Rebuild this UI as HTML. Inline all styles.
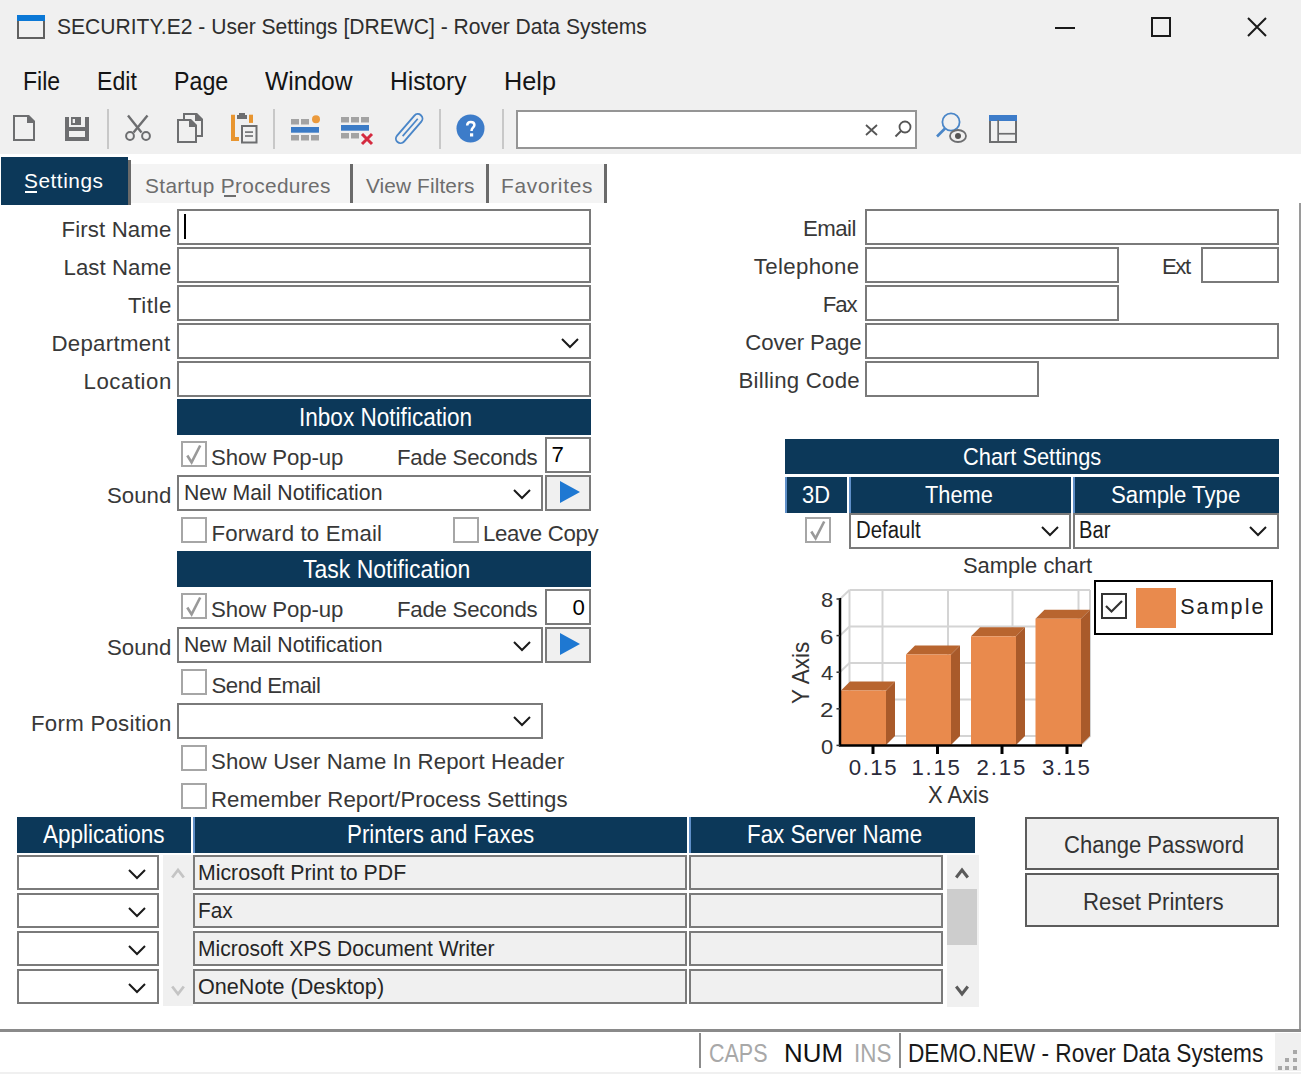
<!DOCTYPE html>
<html><head><meta charset="utf-8"><title>SECURITY.E2 - User Settings</title>
<style>
html,body{margin:0;padding:0;}
body{width:1301px;height:1074px;position:relative;overflow:hidden;background:#fff;font-family:"Liberation Sans", sans-serif;}
.a{position:absolute;box-sizing:border-box;}
.t{position:absolute;white-space:nowrap;}
svg{position:absolute;overflow:visible;}
</style></head><body>
<div class="a" style="left:0px;top:0px;width:1301px;height:154px;background:#f0f0f0;"></div>
<div class="a" style="left:17px;top:15px;width:28px;height:24px;background:transparent;border:2px solid #606060;"></div>
<div class="a" style="left:17px;top:15px;width:28px;height:5.5px;background:#0b78d6;"></div>
<div class="t" style="left:57.00px;top:17.20px;font-size:21.53px;line-height:21.53px;color:#2e2e2e;transform:scaleX(0.9793);transform-origin:0 0;">SECURITY.E2 - User Settings [DREWC] - Rover Data Systems</div>
<div class="a" style="left:1055px;top:27px;width:20px;height:2px;background:#1a1a1a;"></div>
<div class="a" style="left:1151px;top:17px;width:20px;height:20px;background:transparent;border:2px solid #1a1a1a;"></div>
<svg style="left:1247px;top:17px" width="20" height="20"><path d="M1 1L19 19M19 1L1 19" stroke="#1a1a1a" stroke-width="2"/></svg>
<div class="t" style="left:22.65px;top:68.75px;font-size:25.0px;line-height:25.0px;color:#141414;transform:scaleX(0.9230);transform-origin:0 0;">File</div>
<div class="t" style="left:97.15px;top:68.75px;font-size:25.0px;line-height:25.0px;color:#141414;transform:scaleX(0.9238);transform-origin:0 0;">Edit</div>
<div class="t" style="left:174.14px;top:68.75px;font-size:25.0px;line-height:25.0px;color:#141414;transform:scaleX(0.9282);transform-origin:0 0;">Page</div>
<div class="t" style="left:265.00px;top:68.75px;font-size:25.0px;line-height:25.0px;color:#141414;transform:scaleX(0.9848);transform-origin:0 0;">Window</div>
<div class="t" style="left:390.03px;top:68.75px;font-size:25.0px;line-height:25.0px;color:#141414;transform:scaleX(0.9832);transform-origin:0 0;">History</div>
<div class="t" style="left:503.98px;top:68.75px;font-size:25.0px;line-height:25.0px;color:#141414;transform:scaleX(1.0101);transform-origin:0 0;">Help</div>
<div class="a" style="left:1px;top:157px;width:127px;height:48px;background:#0c3859;"></div>
<div class="a" style="left:128px;top:160px;width:3px;height:45px;background:#6a6a6a;"></div>
<div class="t" style="left:24.00px;top:171.29px;font-size:20.83px;line-height:20.83px;color:#fff;letter-spacing:0.522px;">Settings</div>
<div class="a" style="left:25px;top:191px;width:12px;height:2px;background:#fff;"></div>
<div class="a" style="left:131px;top:164px;width:219px;height:39px;background:#f4f4f4;"></div>
<div class="a" style="left:350px;top:164px;width:3px;height:39px;background:#6a6a6a;"></div>
<div class="t" style="left:145.00px;top:175.79px;font-size:20.83px;line-height:20.83px;color:#6d6d6d;letter-spacing:0.351px;">Startup Procedures</div>
<div class="a" style="left:224px;top:195px;width:12px;height:2px;background:#6d6d6d;"></div>
<div class="a" style="left:353px;top:164px;width:133px;height:39px;background:#f4f4f4;"></div>
<div class="a" style="left:486px;top:164px;width:3px;height:39px;background:#6a6a6a;"></div>
<div class="t" style="left:366.00px;top:175.79px;font-size:20.83px;line-height:20.83px;color:#6d6d6d;letter-spacing:0.106px;">View Filters</div>
<div class="a" style="left:489px;top:164px;width:115px;height:39px;background:#f4f4f4;"></div>
<div class="a" style="left:604px;top:164px;width:3px;height:39px;background:#6a6a6a;"></div>
<div class="t" style="left:501.00px;top:175.79px;font-size:20.83px;line-height:20.83px;color:#6d6d6d;letter-spacing:0.720px;">Favorites</div>
<div class="a" style="left:1299px;top:203px;width:2px;height:827px;background:#9a9a9a;"></div>
<div class="t" style="left:61.50px;top:219.11px;font-size:22.22px;line-height:22.22px;color:#383838;letter-spacing:0.136px;">First Name</div>
<div class="t" style="left:63.50px;top:257.11px;font-size:22.22px;line-height:22.22px;color:#383838;letter-spacing:0.052px;">Last Name</div>
<div class="t" style="left:128.00px;top:295.11px;font-size:22.22px;line-height:22.22px;color:#383838;letter-spacing:0.552px;">Title</div>
<div class="t" style="left:51.50px;top:333.11px;font-size:22.22px;line-height:22.22px;color:#383838;letter-spacing:0.288px;">Department</div>
<div class="t" style="left:83.50px;top:371.11px;font-size:22.22px;line-height:22.22px;color:#383838;letter-spacing:0.550px;">Location</div>
<div class="a" style="left:177px;top:209px;width:414px;height:36px;background:#fff;border:2px solid #7a7a7a;"></div>
<div class="a" style="left:177px;top:247px;width:414px;height:36px;background:#fff;border:2px solid #7a7a7a;"></div>
<div class="a" style="left:177px;top:285px;width:414px;height:36px;background:#fff;border:2px solid #7a7a7a;"></div>
<div class="a" style="left:177px;top:323px;width:414px;height:36px;background:#fff;border:2px solid #7a7a7a;"></div>
<div class="a" style="left:177px;top:361px;width:414px;height:36px;background:#fff;border:2px solid #7a7a7a;"></div>
<svg style="left:561px;top:338px" width="18" height="10"><path d="M1 1L9.0 9L17 1" fill="none" stroke="#1a1a1a" stroke-width="2"/></svg>
<div class="a" style="left:184px;top:214px;width:2px;height:25px;background:#000;"></div>
<div class="a" style="left:177px;top:399px;width:414px;height:36px;background:#0c3859;"></div>
<div class="t" style="left:298.69px;top:404.75px;font-size:25.0px;line-height:25.0px;color:#fff;transform:scaleX(0.9027);transform-origin:0 0;">Inbox Notification</div>
<div class="a" style="left:181px;top:441px;width:26px;height:26px;background:#fff;border:2px solid #a6a6a6;"></div>
<svg style="left:181px;top:441px" width="26" height="26"><path d="M6.3 14.5L10.6 21.4L19.2 4.5" fill="none" stroke="#999999" stroke-width="2.6"/></svg>
<div class="t" style="left:211.00px;top:446.61px;font-size:22.22px;line-height:22.22px;color:#383838;letter-spacing:-0.104px;">Show Pop-up</div>
<div class="t" style="left:397.00px;top:446.61px;font-size:22.22px;line-height:22.22px;color:#383838;letter-spacing:-0.243px;">Fade Seconds</div>
<div class="a" style="left:545px;top:437px;width:46px;height:36px;background:#fff;border:2px solid #7a7a7a;"></div>
<div class="t" style="left:551.50px;top:444.11px;font-size:22.22px;line-height:22.22px;color:#000;">7</div>
<div class="t" style="left:107.00px;top:485.11px;font-size:22.22px;line-height:22.22px;color:#383838;letter-spacing:0.027px;">Sound</div>
<div class="a" style="left:177px;top:475px;width:366px;height:36px;background:#fff;border:2px solid #7a7a7a;"></div>
<div class="t" style="left:183.51px;top:482.70px;font-size:21.53px;line-height:21.53px;color:#333;transform:scaleX(0.9879);transform-origin:0 0;">New Mail Notification</div>
<svg style="left:513px;top:489px" width="18" height="10"><path d="M1 1L9.0 9L17 1" fill="none" stroke="#1a1a1a" stroke-width="2"/></svg>
<div class="a" style="left:545px;top:475px;width:46px;height:36px;background:#f0f0f0;border:2px solid #7a7a7a;"></div>
<svg style="left:560px;top:481px" width="20" height="22"><path d="M0 0L20 11L0 22Z" fill="#1e78d2"/></svg>
<div class="a" style="left:181px;top:517px;width:26px;height:26px;background:#fff;border:2px solid #a6a6a6;"></div>
<div class="t" style="left:211.50px;top:523.11px;font-size:22.22px;line-height:22.22px;color:#383838;letter-spacing:0.168px;">Forward to Email</div>
<div class="a" style="left:453px;top:517px;width:26px;height:26px;background:#fff;border:2px solid #a6a6a6;"></div>
<div class="t" style="left:483.00px;top:523.11px;font-size:22.22px;line-height:22.22px;color:#383838;letter-spacing:-0.330px;">Leave Copy</div>
<div class="a" style="left:177px;top:551px;width:414px;height:36px;background:#0c3859;"></div>
<div class="t" style="left:302.50px;top:556.75px;font-size:25.0px;line-height:25.0px;color:#fff;transform:scaleX(0.9193);transform-origin:0 0;">Task Notification</div>
<div class="a" style="left:181px;top:593px;width:26px;height:26px;background:#fff;border:2px solid #a6a6a6;"></div>
<svg style="left:181px;top:593px" width="26" height="26"><path d="M6.3 14.5L10.6 21.4L19.2 4.5" fill="none" stroke="#999999" stroke-width="2.6"/></svg>
<div class="t" style="left:211.00px;top:599.11px;font-size:22.22px;line-height:22.22px;color:#383838;letter-spacing:-0.104px;">Show Pop-up</div>
<div class="t" style="left:397.00px;top:599.11px;font-size:22.22px;line-height:22.22px;color:#383838;letter-spacing:-0.243px;">Fade Seconds</div>
<div class="a" style="left:545px;top:589px;width:46px;height:36px;background:#fff;border:2px solid #7a7a7a;"></div>
<div class="t" style="left:572.50px;top:597.11px;font-size:22.22px;line-height:22.22px;color:#000;">0</div>
<div class="t" style="left:107.00px;top:636.61px;font-size:22.22px;line-height:22.22px;color:#383838;letter-spacing:0.027px;">Sound</div>
<div class="a" style="left:177px;top:627px;width:366px;height:36px;background:#fff;border:2px solid #7a7a7a;"></div>
<div class="t" style="left:183.51px;top:634.70px;font-size:21.53px;line-height:21.53px;color:#333;transform:scaleX(0.9879);transform-origin:0 0;">New Mail Notification</div>
<svg style="left:513px;top:641px" width="18" height="10"><path d="M1 1L9.0 9L17 1" fill="none" stroke="#1a1a1a" stroke-width="2"/></svg>
<div class="a" style="left:545px;top:627px;width:46px;height:36px;background:#f0f0f0;border:2px solid #7a7a7a;"></div>
<svg style="left:560px;top:633px" width="20" height="22"><path d="M0 0L20 11L0 22Z" fill="#1e78d2"/></svg>
<div class="a" style="left:181px;top:669px;width:26px;height:26px;background:#fff;border:2px solid #a6a6a6;"></div>
<div class="t" style="left:211.50px;top:675.11px;font-size:22.22px;line-height:22.22px;color:#383838;letter-spacing:-0.465px;">Send Email</div>
<div class="t" style="left:31.00px;top:713.11px;font-size:22.22px;line-height:22.22px;color:#383838;letter-spacing:0.275px;">Form Position</div>
<div class="a" style="left:177px;top:703px;width:366px;height:36px;background:#fff;border:2px solid #7a7a7a;"></div>
<svg style="left:513px;top:716px" width="18" height="10"><path d="M1 1L9.0 9L17 1" fill="none" stroke="#1a1a1a" stroke-width="2"/></svg>
<div class="a" style="left:181px;top:745px;width:26px;height:26px;background:#fff;border:2px solid #a6a6a6;"></div>
<div class="t" style="left:211.00px;top:751.11px;font-size:22.22px;line-height:22.22px;color:#383838;letter-spacing:0.089px;">Show User Name In Report Header</div>
<div class="a" style="left:181px;top:783px;width:26px;height:26px;background:#fff;border:2px solid #a6a6a6;"></div>
<div class="t" style="left:211.00px;top:789.11px;font-size:22.22px;line-height:22.22px;color:#383838;letter-spacing:0.031px;">Remember Report/Process Settings</div>
<div class="a" style="left:17px;top:817px;width:174px;height:35.5px;background:#0c3859;"></div>
<div class="a" style="left:193px;top:817px;width:494px;height:35.5px;background:#0c3859;"></div>
<div class="a" style="left:193px;top:817px;width:1.5px;height:35.5px;background:#5f8fc8;"></div>
<div class="a" style="left:689px;top:817px;width:286px;height:35.5px;background:#0c3859;"></div>
<div class="a" style="left:689px;top:817px;width:1.5px;height:35.5px;background:#5f8fc8;"></div>
<div class="t" style="left:43.00px;top:822.25px;font-size:25.0px;line-height:25.0px;color:#fff;transform:scaleX(0.9010);transform-origin:0 0;">Applications</div>
<div class="t" style="left:346.97px;top:822.25px;font-size:25.0px;line-height:25.0px;color:#fff;transform:scaleX(0.8924);transform-origin:0 0;">Printers and Faxes</div>
<div class="t" style="left:746.96px;top:822.25px;font-size:25.0px;line-height:25.0px;color:#fff;transform:scaleX(0.8939);transform-origin:0 0;">Fax Server Name</div>
<div class="a" style="left:17px;top:855px;width:142px;height:35px;background:#fff;border:2px solid #7a7a7a;"></div>
<svg style="left:128px;top:869px" width="18" height="10"><path d="M1 1L9.0 9L17 1" fill="none" stroke="#1a1a1a" stroke-width="2"/></svg>
<div class="a" style="left:193px;top:855px;width:494px;height:35px;background:#f0f0f0;border:2px solid #7a7a7a;"></div>
<div class="t" style="left:197.51px;top:862.70px;font-size:21.53px;line-height:21.53px;color:#262626;transform:scaleX(0.9891);transform-origin:0 0;">Microsoft Print to PDF</div>
<div class="a" style="left:689px;top:855px;width:254px;height:35px;background:#f0f0f0;border:2px solid #7a7a7a;"></div>
<div class="a" style="left:17px;top:893px;width:142px;height:35px;background:#fff;border:2px solid #7a7a7a;"></div>
<svg style="left:128px;top:907px" width="18" height="10"><path d="M1 1L9.0 9L17 1" fill="none" stroke="#1a1a1a" stroke-width="2"/></svg>
<div class="a" style="left:193px;top:893px;width:494px;height:35px;background:#f0f0f0;border:2px solid #7a7a7a;"></div>
<div class="t" style="left:197.53px;top:900.70px;font-size:21.53px;line-height:21.53px;color:#262626;transform:scaleX(0.9684);transform-origin:0 0;">Fax</div>
<div class="a" style="left:689px;top:893px;width:254px;height:35px;background:#f0f0f0;border:2px solid #7a7a7a;"></div>
<div class="a" style="left:17px;top:931px;width:142px;height:35px;background:#fff;border:2px solid #7a7a7a;"></div>
<svg style="left:128px;top:945px" width="18" height="10"><path d="M1 1L9.0 9L17 1" fill="none" stroke="#1a1a1a" stroke-width="2"/></svg>
<div class="a" style="left:193px;top:931px;width:494px;height:35px;background:#f0f0f0;border:2px solid #7a7a7a;"></div>
<div class="t" style="left:197.52px;top:938.70px;font-size:21.53px;line-height:21.53px;color:#262626;transform:scaleX(0.9774);transform-origin:0 0;">Microsoft XPS Document Writer</div>
<div class="a" style="left:689px;top:931px;width:254px;height:35px;background:#f0f0f0;border:2px solid #7a7a7a;"></div>
<div class="a" style="left:17px;top:969px;width:142px;height:35px;background:#fff;border:2px solid #7a7a7a;"></div>
<svg style="left:128px;top:983px" width="18" height="10"><path d="M1 1L9.0 9L17 1" fill="none" stroke="#1a1a1a" stroke-width="2"/></svg>
<div class="a" style="left:193px;top:969px;width:494px;height:35px;background:#f0f0f0;border:2px solid #7a7a7a;"></div>
<div class="t" style="left:197.50px;top:976.70px;font-size:21.53px;line-height:21.53px;color:#262626;transform:scaleX(1.0039);transform-origin:0 0;">OneNote (Desktop)</div>
<div class="a" style="left:689px;top:969px;width:254px;height:35px;background:#f0f0f0;border:2px solid #7a7a7a;"></div>
<div class="a" style="left:163px;top:855px;width:29.5px;height:151px;background:#f0f0f0;"></div>
<svg style="left:171px;top:867px" width="14" height="12"><path d="M1.2 10.5L7 3L12.8 10.5" fill="none" stroke="#c4c4c4" stroke-width="2.8"/></svg>
<svg style="left:171px;top:985px" width="14" height="12"><path d="M1.2 1.5L7 9L12.8 1.5" fill="none" stroke="#c4c4c4" stroke-width="2.8"/></svg>
<div class="a" style="left:947px;top:855px;width:32px;height:151.5px;background:#f0f0f0;"></div>
<div class="a" style="left:947px;top:889px;width:29.5px;height:55.5px;background:#cdcdcd;"></div>
<svg style="left:955px;top:867px" width="14" height="12"><path d="M1.2 10.5L7 3L12.8 10.5" fill="none" stroke="#5a5a5a" stroke-width="3"/></svg>
<svg style="left:955px;top:985px" width="14" height="12"><path d="M1.2 1.5L7 9L12.8 1.5" fill="none" stroke="#5a5a5a" stroke-width="3"/></svg>
<div class="a" style="left:1025px;top:817px;width:254px;height:53px;background:#f0f0f0;border:2px solid #5c5c5c;"></div>
<div class="t" style="left:1063.57px;top:833.93px;font-size:23.61px;line-height:23.61px;color:#333;transform:scaleX(0.9335);transform-origin:0 0;">Change Password</div>
<div class="a" style="left:1025px;top:873px;width:254px;height:53.5px;background:#f0f0f0;border:2px solid #5c5c5c;"></div>
<div class="t" style="left:1083.46px;top:890.93px;font-size:23.61px;line-height:23.61px;color:#333;transform:scaleX(0.9406);transform-origin:0 0;">Reset Printers</div>
<div class="t" style="left:803.00px;top:218.11px;font-size:22.22px;line-height:22.22px;color:#383838;letter-spacing:-0.530px;">Email</div>
<div class="t" style="left:753.75px;top:256.11px;font-size:22.22px;line-height:22.22px;color:#383838;letter-spacing:0.352px;">Telephone</div>
<div class="t" style="left:822.75px;top:294.11px;font-size:22.22px;line-height:22.22px;color:#383838;letter-spacing:-1.090px;">Fax</div>
<div class="t" style="left:745.25px;top:332.11px;font-size:22.22px;line-height:22.22px;color:#383838;letter-spacing:-0.108px;">Cover Page</div>
<div class="t" style="left:738.50px;top:370.11px;font-size:22.22px;line-height:22.22px;color:#383838;letter-spacing:0.231px;">Billing Code</div>
<div class="t" style="left:1162.00px;top:256.11px;font-size:22.22px;line-height:22.22px;color:#383838;letter-spacing:-1.465px;">Ext</div>
<div class="a" style="left:865px;top:209px;width:414px;height:36px;background:#fff;border:2px solid #7a7a7a;"></div>
<div class="a" style="left:865px;top:247px;width:254px;height:36px;background:#fff;border:2px solid #7a7a7a;"></div>
<div class="a" style="left:1201px;top:247px;width:78px;height:36px;background:#fff;border:2px solid #7a7a7a;"></div>
<div class="a" style="left:865px;top:285px;width:254px;height:36px;background:#fff;border:2px solid #7a7a7a;"></div>
<div class="a" style="left:865px;top:323px;width:414px;height:36px;background:#fff;border:2px solid #7a7a7a;"></div>
<div class="a" style="left:865px;top:361px;width:174px;height:36px;background:#fff;border:2px solid #7a7a7a;"></div>
<div class="a" style="left:785px;top:439px;width:494px;height:35px;background:#0c3859;"></div>
<div class="t" style="left:962.85px;top:445.34px;font-size:24.31px;line-height:24.31px;color:#fff;transform:scaleX(0.8982);transform-origin:0 0;">Chart Settings</div>
<div class="a" style="left:785px;top:477px;width:62px;height:36px;background:#0c3859;"></div>
<div class="a" style="left:785px;top:477px;width:1.5px;height:36px;background:#5f8fc8;"></div>
<div class="a" style="left:849px;top:477px;width:222px;height:36px;background:#0c3859;"></div>
<div class="a" style="left:849px;top:477px;width:1.5px;height:36px;background:#5f8fc8;"></div>
<div class="a" style="left:1073px;top:477px;width:206px;height:36px;background:#0c3859;"></div>
<div class="a" style="left:1073px;top:477px;width:1.5px;height:36px;background:#5f8fc8;"></div>
<div class="t" style="left:801.50px;top:483.63px;font-size:23.61px;line-height:23.61px;color:#fff;transform:scaleX(0.9269);transform-origin:0 0;">3D</div>
<div class="t" style="left:925.30px;top:483.83px;font-size:23.61px;line-height:23.61px;color:#fff;transform:scaleX(0.9230);transform-origin:0 0;">Theme</div>
<div class="t" style="left:1111.06px;top:483.83px;font-size:23.61px;line-height:23.61px;color:#fff;transform:scaleX(0.9410);transform-origin:0 0;">Sample Type</div>
<div class="a" style="left:805px;top:517px;width:26px;height:26px;background:#fff;border:2px solid #a6a6a6;"></div>
<svg style="left:805px;top:517px" width="26" height="26"><path d="M6.3 14.5L10.6 21.4L19.2 4.5" fill="none" stroke="#999999" stroke-width="2.6"/></svg>
<div class="a" style="left:849px;top:513px;width:222px;height:36px;background:#fff;border:2px solid #7a7a7a;"></div>
<div class="t" style="left:855.94px;top:519.33px;font-size:23.61px;line-height:23.61px;color:#1a1a1a;transform:scaleX(0.8647);transform-origin:0 0;">Default</div>
<svg style="left:1041px;top:526px" width="18" height="10"><path d="M1 1L9.0 9L17 1" fill="none" stroke="#1a1a1a" stroke-width="2"/></svg>
<div class="a" style="left:1073px;top:513px;width:206px;height:36px;background:#fff;border:2px solid #7a7a7a;"></div>
<div class="t" style="left:1079.15px;top:519.33px;font-size:23.61px;line-height:23.61px;color:#1a1a1a;transform:scaleX(0.8529);transform-origin:0 0;">Bar</div>
<svg style="left:1249px;top:526px" width="18" height="10"><path d="M1 1L9.0 9L17 1" fill="none" stroke="#1a1a1a" stroke-width="2"/></svg>
<div class="t" style="left:962.79px;top:554.02px;font-size:22.92px;line-height:22.92px;color:#333;transform:scaleX(0.9566);transform-origin:0 0;">Sample chart</div>
<svg style="left:13px;top:115px" width="22" height="26"><path d="M1 1H15L21 7V25H1Z" fill="none" stroke="#6d6e70" stroke-width="2"/><path d="M14 0H16L22 6V8H14Z" fill="#6d6e70"/></svg>
<svg style="left:65px;top:117px" width="24" height="24"><path d="M0 0H4V10H20V0H24V24H0Z M4 14V20H20V14Z" fill="#6d6e70" fill-rule="evenodd"/><rect x="6" y="0" width="10" height="8" fill="#6d6e70"/><rect x="7.7" y="2" width="2.3" height="4" fill="#f0f0f0"/></svg>
<div class="a" style="left:107px;top:109px;width:2px;height:40px;background:#c8c8c8;"></div>
<svg style="left:124px;top:114px" width="28" height="28"><path d="M4 1.5L17.5 18.5M23.5 1.5L9.5 18.5" stroke="#6d6e70" stroke-width="2.4"/><circle cx="6" cy="22" r="3.9" fill="none" stroke="#6d6e70" stroke-width="2"/><circle cx="22" cy="22" r="3.9" fill="none" stroke="#6d6e70" stroke-width="2"/></svg>
<svg style="left:177px;top:113px" width="27" height="30"><path d="M7 6V1H19L25 7V23H20" fill="none" stroke="#6d6e70" stroke-width="2"/><path d="M18 0H20L26 6V8H18Z" fill="#6d6e70"/><path d="M1 7H13L19 13V29H1Z" fill="#f0f0f0" stroke="#6d6e70" stroke-width="2"/><path d="M12 6H14L20 12V14H12Z" fill="#6d6e70"/></svg>
<svg style="left:230px;top:113px" width="28" height="30"><path d="M1 1.7H5V24H9V28H1Z" fill="#e8952f"/><rect x="19" y="1.7" width="4" height="8.2" fill="#e8952f"/><path d="M7 2H9V0H15V2H17V6H7Z" fill="#6d6e70"/><rect x="12" y="13" width="14.5" height="16.5" fill="#f0f0f0" stroke="#6d6e70" stroke-width="2"/><rect x="15" y="18.3" width="8" height="1.6" fill="#6d6e70"/><rect x="15" y="22.2" width="8" height="1.6" fill="#6d6e70"/></svg>
<div class="a" style="left:273px;top:109px;width:2px;height:40px;background:#c8c8c8;"></div>
<svg style="left:291px;top:115px" width="30" height="26"><rect x="0" y="4" width="8" height="5.5" fill="#a3a3a3"/><rect x="10" y="4" width="8" height="5.5" fill="#a3a3a3"/><circle cx="25" cy="4.3" r="4" fill="#eb9a3c"/><rect x="0" y="12" width="28" height="5.7" fill="#3b7bc6"/><rect x="0" y="20" width="8" height="5.5" fill="#a3a3a3"/><rect x="10" y="20" width="8" height="5.5" fill="#a3a3a3"/><rect x="20" y="20" width="8" height="5.5" fill="#a3a3a3"/></svg>
<svg style="left:341px;top:117px" width="33" height="28"><rect x="0" y="0" width="8" height="5.5" fill="#a3a3a3"/><rect x="10" y="0" width="8" height="5.5" fill="#a3a3a3"/><rect x="20" y="0" width="8" height="5.5" fill="#a3a3a3"/><rect x="0" y="8" width="28" height="5.7" fill="#3b7bc6"/><rect x="0" y="16" width="8" height="5.5" fill="#a3a3a3"/><rect x="10" y="16" width="8" height="5.5" fill="#a3a3a3"/><path d="M21 17L31 27M31 17L21 27" stroke="#d42a3f" stroke-width="3"/></svg>
<svg style="left:393px;top:110px" width="34" height="37"><g transform="translate(16.2 18.6) rotate(41)"><rect x="-4.6" y="-17.8" width="9.2" height="35.6" rx="4.6" fill="none" stroke="#4a86c8" stroke-width="1.9"/><path d="M0 -13V10" stroke="#4a86c8" stroke-width="1.7"/></g></svg>
<div class="a" style="left:439px;top:109px;width:2px;height:40px;background:#c8c8c8;"></div>
<svg style="left:456px;top:114px" width="29" height="29"><circle cx="14.5" cy="14.5" r="14" fill="#3d7cc9"/><path d="M11.2 11.5C11.2 9.2 12.8 7.9 14.8 7.9C16.9 7.9 18.4 9.2 18.4 11C18.4 13.5 15.6 13.8 15.6 16.3V17" fill="none" stroke="#fff" stroke-width="2.5"/><rect x="14" y="19.3" width="3.2" height="3.2" fill="#fff"/></svg>
<div class="a" style="left:502px;top:109px;width:2px;height:40px;background:#c8c8c8;"></div>
<div class="a" style="left:515.5px;top:109.5px;width:401.5px;height:39.5px;background:#fff;border:2px solid #959595;"></div>
<svg style="left:865px;top:124px" width="13" height="12"><path d="M1 1L12 11M12 1L1 11" stroke="#555" stroke-width="1.8"/></svg>
<svg style="left:894px;top:120px" width="18" height="18"><circle cx="11" cy="7" r="5.5" fill="none" stroke="#555" stroke-width="1.8"/><path d="M7 11L1.5 16.5" stroke="#555" stroke-width="2"/></svg>
<svg style="left:935px;top:112px" width="33" height="31"><circle cx="16" cy="10" r="8.6" fill="none" stroke="#4a86c8" stroke-width="1.8"/><path d="M10 16.5L2 24.5" stroke="#4a86c8" stroke-width="2.6"/><ellipse cx="23" cy="24" rx="8" ry="6" fill="#f0f0f0" stroke="#6d6e70" stroke-width="1.8"/><circle cx="23" cy="24" r="3" fill="#555"/></svg>
<svg style="left:989px;top:115px" width="28" height="28"><rect x="1" y="1" width="26" height="26" fill="none" stroke="#6d6e70" stroke-width="2"/><rect x="0" y="0" width="28" height="6" fill="#3d7cc9"/><rect x="8.3" y="5" width="1.7" height="22" fill="#6d6e70"/><rect x="9" y="17.9" width="18" height="1.7" fill="#6d6e70"/></svg>
<div class="a" style="left:0px;top:1029px;width:1301px;height:3.5px;background:#8a8a8a;"></div>
<div class="a" style="left:0px;top:1032px;width:1301px;height:42px;background:#ffffff;"></div>
<div class="a" style="left:0px;top:1071.5px;width:1301px;height:2.5px;background:#f0f0f0;"></div>
<div class="a" style="left:699px;top:1033px;width:2px;height:35px;background:#8c8c8c;"></div>
<div class="a" style="left:899px;top:1033px;width:2px;height:35px;background:#8c8c8c;"></div>
<div class="t" style="left:709.14px;top:1040.75px;font-size:25.0px;line-height:25.0px;color:#a8a8a8;transform:scaleX(0.8584);transform-origin:0 0;">CAPS</div>
<div class="t" style="left:783.93px;top:1040.75px;font-size:25.0px;line-height:25.0px;color:#111;transform:scaleX(1.0356);transform-origin:0 0;">NUM</div>
<div class="t" style="left:854.21px;top:1040.75px;font-size:25.0px;line-height:25.0px;color:#a8a8a8;transform:scaleX(0.8974);transform-origin:0 0;">INS</div>
<div class="t" style="left:908.19px;top:1040.75px;font-size:25.0px;line-height:25.0px;color:#1a1a1a;transform:scaleX(0.9069);transform-origin:0 0;">DEMO.NEW - Rover Data Systems</div>
<div class="a" style="left:1275px;top:1032.5px;width:26px;height:38.5px;background:#f0f0f0;"></div>
<div class="a" style="left:1293px;top:1049.5px;width:4px;height:4.0px;background:#a8a8a8;"></div>
<div class="a" style="left:1285px;top:1057.5px;width:4px;height:4.0px;background:#a8a8a8;"></div>
<div class="a" style="left:1293px;top:1057.5px;width:4px;height:4.0px;background:#a8a8a8;"></div>
<div class="a" style="left:1277.5px;top:1065.5px;width:4.0px;height:4.0px;background:#a8a8a8;"></div>
<div class="a" style="left:1285px;top:1065.5px;width:4px;height:4.0px;background:#a8a8a8;"></div>
<div class="a" style="left:1293px;top:1065.5px;width:4px;height:4.0px;background:#a8a8a8;"></div>
<svg style="left:780px;top:580px" width="320" height="240" viewBox="780 580 320 240"><path d="M849.5 590H1090" stroke="#d4d4d4" stroke-width="2"/><path d="M840 599L849.5 590" stroke="#d4d4d4" stroke-width="2"/><path d="M849.5 626.5H1090" stroke="#d4d4d4" stroke-width="2"/><path d="M840 635.5L849.5 626.5" stroke="#d4d4d4" stroke-width="2"/><path d="M849.5 663H1090" stroke="#d4d4d4" stroke-width="2"/><path d="M840 672L849.5 663" stroke="#d4d4d4" stroke-width="2"/><path d="M849.5 699.5H1090" stroke="#d4d4d4" stroke-width="2"/><path d="M840 708.5L849.5 699.5" stroke="#d4d4d4" stroke-width="2"/><path d="M849.5 736H1090" stroke="#d4d4d4" stroke-width="2"/><path d="M840 745L849.5 736" stroke="#d4d4d4" stroke-width="2"/><path d="M849.5 590V736" stroke="#d4d4d4" stroke-width="2"/><path d="M882.5 590V736" stroke="#d4d4d4" stroke-width="2"/><path d="M948 590V736" stroke="#d4d4d4" stroke-width="2"/><path d="M1012.5 590V736" stroke="#d4d4d4" stroke-width="2"/><path d="M1078.5 590V736" stroke="#d4d4d4" stroke-width="2"/><path d="M1090 590V736L1081 745" stroke="#d4d4d4" stroke-width="2" fill="none"/><path d="M841 690.5L850 681.5H895L886 690.5Z" fill="#b8652f"/><path d="M886 690.5L895 681.5V736L886 745Z" fill="#a95a2a"/><rect x="841" y="690.5" width="45" height="54.5" fill="#e98a4d"/><path d="M906 654.5L915 645.5H960L951 654.5Z" fill="#b8652f"/><path d="M951 654.5L960 645.5V736L951 745Z" fill="#a95a2a"/><rect x="906" y="654.5" width="45" height="90.5" fill="#e98a4d"/><path d="M971 636.3L980 627.3H1025L1016 636.3Z" fill="#b8652f"/><path d="M1016 636.3L1025 627.3V736L1016 745Z" fill="#a95a2a"/><rect x="971" y="636.3" width="45" height="108.70000000000005" fill="#e98a4d"/><path d="M1035.5 618.7L1044.5 609.7H1090L1081 618.7Z" fill="#b8652f"/><path d="M1081 618.7L1090 609.7V736L1081 745Z" fill="#a95a2a"/><rect x="1035.5" y="618.7" width="45.5" height="126.29999999999995" fill="#e98a4d"/><path d="M840 598V746.5M839 745.5H1082" stroke="#000" stroke-width="2.5" fill="none"/><path d="M873 745V754" stroke="#000" stroke-width="3"/><path d="M937.5 745V754" stroke="#000" stroke-width="3"/><path d="M1002 745V754" stroke="#000" stroke-width="3"/><path d="M1067 745V754" stroke="#000" stroke-width="3"/><path d="M836.5 599H840" stroke="#333" stroke-width="1.5"/><path d="M836.5 635.6H840" stroke="#333" stroke-width="1.5"/><path d="M836.5 672.2H840" stroke="#333" stroke-width="1.5"/><path d="M836.5 708.8H840" stroke="#333" stroke-width="1.5"/><path d="M836.5 745.4H840" stroke="#333" stroke-width="1.5"/></svg>
<div class="t" style="left:821.00px;top:736.58px;font-size:20.14px;line-height:20.14px;color:#333;transform:scaleX(1.0909);transform-origin:0 0;">0</div>
<div class="t" style="left:819.80px;top:700.08px;font-size:20.14px;line-height:20.14px;color:#333;transform:scaleX(1.2000);transform-origin:0 0;">2</div>
<div class="t" style="left:821.00px;top:663.48px;font-size:20.14px;line-height:20.14px;color:#333;transform:scaleX(1.0909);transform-origin:0 0;">4</div>
<div class="t" style="left:819.80px;top:626.88px;font-size:20.14px;line-height:20.14px;color:#333;transform:scaleX(1.2000);transform-origin:0 0;">6</div>
<div class="t" style="left:821.00px;top:590.08px;font-size:20.14px;line-height:20.14px;color:#333;transform:scaleX(1.0909);transform-origin:0 0;">8</div>
<div class="t" style="left:848.75px;top:757.11px;font-size:22.22px;line-height:22.22px;color:#2a2a3a;letter-spacing:1.538px;">0.15</div>
<div class="t" style="left:911.50px;top:757.11px;font-size:22.22px;line-height:22.22px;color:#2a2a3a;letter-spacing:1.704px;">1.15</div>
<div class="t" style="left:976.50px;top:757.11px;font-size:22.22px;line-height:22.22px;color:#2a2a3a;letter-spacing:1.871px;">2.15</div>
<div class="t" style="left:1042.00px;top:757.11px;font-size:22.22px;line-height:22.22px;color:#2a2a3a;letter-spacing:1.538px;">3.15</div>
<div class="t" style="left:927.50px;top:782.84px;font-size:24.31px;line-height:24.31px;color:#333;transform:scaleX(0.9024);transform-origin:0 0;">X Axis</div>
<div style="position:absolute;left:788.5px;top:703.5px;transform:rotate(-90deg);transform-origin:0 0;">
<div class="t" style="left:0.00px;top:0.34px;font-size:24.31px;line-height:24.31px;color:#333;transform:scaleX(0.9278);transform-origin:0 0;">Y Axis</div>
</div>
<div class="a" style="left:1093.5px;top:579.5px;width:179.5px;height:55.0px;background:#fff;border:2.5px solid #000;"></div>
<div class="a" style="left:1101px;top:593px;width:26px;height:26px;background:#fff;border:2px solid #333;"></div>
<svg style="left:1101px;top:593px" width="26" height="26"><path d="M5 13L10.5 18.5L21 8" fill="none" stroke="#333" stroke-width="2.2"/></svg>
<div class="a" style="left:1136px;top:588px;width:40px;height:40px;background:#e98a4d;"></div>
<div class="t" style="left:1180.20px;top:597.10px;font-size:21.53px;line-height:21.53px;color:#222;letter-spacing:2.063px;">Sample</div>
</body></html>
